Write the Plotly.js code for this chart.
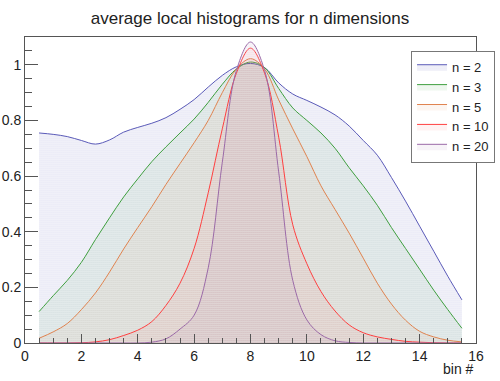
<!DOCTYPE html>
<html>
<head>
<meta charset="utf-8">
<script src="https://cdn.plot.ly/plotly-3.0.1.min.js"></script>
<style>
html,body{margin:0;padding:0;background:#fff;}
#chart{width:500px;height:381px;}
</style>
</head>
<body>
<div id="chart"></div>
<script>
var binX = [0.5,1,1.5,2,2.5,3,3.5,4,4.5,5,5.5,6,6.5,7,7.5,8,8.5,9,9.5,10,10.5,11,11.5,12,12.5,13,13.5,14,14.5,15,15.5];

var n2  = [0.755,0.750,0.742,0.728,0.715,0.730,0.758,0.775,0.790,0.810,0.840,0.875,0.920,0.962,0.993,1.005,0.990,0.935,0.895,0.872,0.848,0.820,0.780,0.728,0.675,0.595,0.510,0.420,0.330,0.240,0.155];
var n3  = [0.113,0.170,0.225,0.290,0.372,0.450,0.525,0.590,0.652,0.705,0.755,0.805,0.865,0.930,0.985,1.010,0.990,0.915,0.845,0.800,0.755,0.700,0.630,0.565,0.495,0.415,0.340,0.265,0.190,0.120,0.053];
var n5  = [0.017,0.040,0.070,0.120,0.180,0.255,0.338,0.415,0.490,0.570,0.645,0.720,0.800,0.900,0.985,1.022,0.985,0.874,0.770,0.670,0.565,0.480,0.395,0.305,0.215,0.140,0.082,0.042,0.022,0.010,0.004];
var n10 = [0.000,0.000,0.000,0.001,0.004,0.012,0.027,0.046,0.077,0.135,0.215,0.340,0.540,0.770,0.970,1.060,0.970,0.740,0.425,0.285,0.185,0.115,0.065,0.037,0.022,0.013,0.006,0.003,0.001,0.000,0.000];
var n20 = [0.000,0.000,0.000,0.000,0.000,0.000,0.000,0.000,0.003,0.015,0.050,0.100,0.270,0.650,0.980,1.082,0.980,0.615,0.225,0.083,0.030,0.008,0.002,0.000,0.000,0.000,0.000,0.000,0.000,0.000,0.000];

var seriesNames = ["n = 2","n = 3","n = 5","n = 10","n = 20"];
var seriesData = [n2,n3,n5,n10,n20];
var colors = ["#5a5ab8","#3f9f3f","#e0834f","#ff4040","#9b6aa8"];
var dotColors = ["rgba(90,90,184,0.2)","rgba(63,159,63,0.17)","rgba(224,131,79,0.15)","rgba(255,64,64,0.13)","rgba(155,106,168,0.15)"];

var font = "Liberation Sans, Arial, Helvetica, sans-serif";

var traces = seriesData.map(function(ys,i){
  return {
    x: binX, y: ys, name: seriesNames[i], type: "scatter", mode: "lines",
    line: {color: colors[i], width: 1, shape: "spline", smoothing: 1},
    fill: "tozeroy",
    fillcolor: "rgba(0,0,0,0)",
    fillpattern: {shape: ".", fgcolor: dotColors[i], bgcolor: "rgba(0,0,0,0)", size: 2, solidity: 0.6}
  };
});

var layout = {
  width: 500, height: 381,
  margin: {l: 25, r: 24, t: 37, b: 38, pad: 0, autoexpand: false},
  paper_bgcolor: "#fff", plot_bgcolor: "#fff",
  font: {family: font, size: 14, color: "#222"},
  title: {text: "average local histograms for n dimensions", font: {family: font, size: 17, color: "#222"}, x: 0.5, xanchor: "center", y: 0.953, yanchor: "middle"},
  showlegend: true,
  legend: {x: 0.856, y: 0.955, xanchor: "left", yanchor: "top", bgcolor: "#fff", bordercolor: "#777", borderwidth: 1, font: {family: font, size: 13, color: "#222"}, tracegroupgap: 0, itemwidth: 30},
  xaxis: {
    range: [0,16], showgrid: false, zeroline: false,
    showline: true, linecolor: "#555", linewidth: 1, mirror: true,
    ticks: "inside", ticklen: 9, tickcolor: "#555", dtick: 2, tick0: 0,
    minor: {ticks: "inside", ticklen: 5, dtick: 0.5, tickcolor: "#555", showgrid: false},
    tickfont: {family: font, size: 14, color: "#222"}
  },
  yaxis: {
    range: [0,1.1], showgrid: false, zeroline: false,
    showline: true, linecolor: "#555", linewidth: 1, mirror: true,
    ticks: "inside", ticklen: 13, tickcolor: "#555", dtick: 0.2, tick0: 0,
    minor: {ticks: "inside", ticklen: 7, dtick: 0.05, tickcolor: "#555", showgrid: false},
    tickfont: {family: font, size: 14, color: "#222"}
  },
  annotations: [{
    text: "bin #", xref: "paper", yref: "paper", x: 1, y: -0.085, xanchor: "right", yanchor: "middle",
    showarrow: false, font: {family: font, size: 14, color: "#222"}
  }]
};

Plotly.newPlot("chart", traces, layout, {displayModeBar: false, staticPlot: true});
</script>
</body>
</html>
